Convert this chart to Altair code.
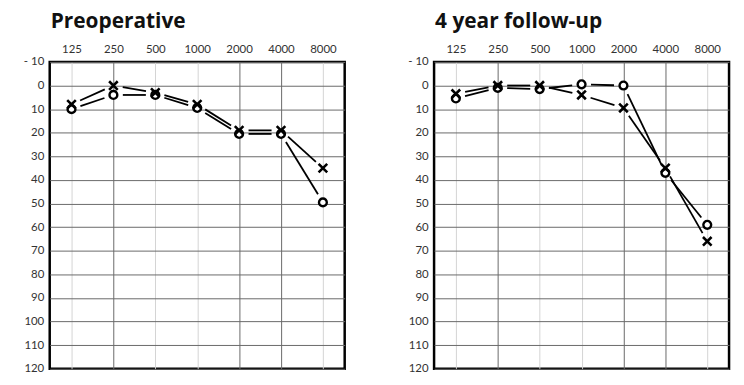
import altair as alt
import pandas as pd

freqs = ["125", "250", "500", "1000", "2000", "4000", "8000"]
pre_x = [8, 0, 3, 8, 19, 19, 35]
pre_o = [10, 4, 4, 9.5, 20.5, 20.5, 49.5]
post_x = [3.5, 0, 0, 4, 9.5, 35, 66]
post_o = [5.5, 1, 1.5, -0.5, 0, 37, 59]
db_ticks = list(range(-10, 130, 10))
dark_cols = [1, 4, 5]

W, H = 297, 309
XDOM = [-0.52, 6.52]
YDOM = [-10, 120]
KX = W / (XDOM[1] - XDOM[0])
KY = H / (YDOM[1] - YDOM[0])
GAP = 9.5

X_SHAPE = "M-1,-1L1,1M1,-1L-1,1"


def points(xs, os):
    rows = []
    for i, (a, b) in enumerate(zip(xs, os)):
        rows.append({"i": i, "db": a, "ear": "x"})
        rows.append({"i": i, "db": b, "ear": "o"})
    return pd.DataFrame(rows)


def segments(xs, os):
    rows = []
    for ear, vals in (("x", xs), ("o", os)):
        for i in range(len(vals) - 1):
            rows.append({"i": i, "i2": i + 1, "y": vals[i], "y2": vals[i + 1], "ear": ear})
    return pd.DataFrame(rows)


labels_js = "[" + ",".join("'%s'" % f for f in freqs) + "]"


def panel(title, xs, os):
    xscale = alt.Scale(domain=XDOM, nice=False, zero=False)
    yscale = alt.Scale(domain=YDOM, reverse=True, nice=False, zero=False)
    xaxis = alt.Axis(
        orient="top", values=list(range(len(freqs))), labelExpr=labels_js + "[datum.value]",
        title=None, domain=False, ticks=False, labelPadding=7, labelOverlap=False,
        gridColor={"condition": {"test": "indexof(%s, datum.value) >= 0" % dark_cols, "value": "#6a6a6a"},
                   "value": "#d4d4d4"},
        gridWidth=1, minExtent=20, maxExtent=20,
    )
    yaxis = alt.Axis(
        values=db_ticks, labelExpr="datum.value == -10 ? '- 10' : datum.label",
        title=None, domain=False, ticks=False, labelPadding=6, labelOverlap=False,
        gridColor="#6a6a6a", gridWidth=1, minExtent=35, maxExtent=35,
    )
    seg = alt.Chart(segments(xs, os)).transform_calculate(
        dx="(datum.i2 - datum.i) * %f" % KX,
        dy="(datum.y2 - datum.y) * %f" % KY,
    ).transform_calculate(
        f="%f / sqrt(datum.dx * datum.dx + datum.dy * datum.dy)" % GAP
    ).transform_calculate(
        xa="datum.i + (datum.i2 - datum.i) * datum.f",
        xb="datum.i2 - (datum.i2 - datum.i) * datum.f",
        ya="datum.y + (datum.y2 - datum.y) * datum.f",
        yb="datum.y2 - (datum.y2 - datum.y) * datum.f",
    ).mark_rule(color="black", strokeWidth=1.8).encode(
        x=alt.X("xa:Q", scale=xscale, axis=xaxis),
        x2="xb:Q",
        y=alt.Y("ya:Q", scale=yscale, axis=yaxis),
        y2="yb:Q",
    )
    pts = points(xs, os)
    circ = alt.Chart(pts).transform_filter("datum.ear == 'o'").mark_point(
        shape="circle", size=62, filled=False, fill="white", fillOpacity=1,
        stroke="black", strokeWidth=2.4, opacity=1,
    ).encode(x=alt.X("i:Q", scale=xscale, axis=xaxis), y=alt.Y("db:Q", scale=yscale, axis=yaxis))
    cross = alt.Chart(pts).transform_filter("datum.ear == 'x'").mark_point(
        shape=X_SHAPE, size=75, filled=False, stroke="black", strokeWidth=2.6, opacity=1,
    ).encode(x=alt.X("i:Q", scale=xscale, axis=xaxis), y=alt.Y("db:Q", scale=yscale, axis=yaxis))
    return alt.layer(seg, circ, cross).properties(
        width=W, height=H,
        title=alt.TitleParams(title, anchor="start", frame="group", fontSize=21, font="Open Sans",
                              fontWeight="bold", color="#111", offset=10, dx=1),
    )


chart = alt.hconcat(
    panel("Preoperative", pre_x, pre_o),
    panel("4 year follow-up", post_x, post_o),
    spacing=51,
).configure_view(stroke="black", strokeWidth=2.5).configure_axis(
    labelFont="Lato", labelFontSize=11.5, labelColor="#333"
).properties(background="white", padding={"left": 5, "top": 0, "right": 5, "bottom": 5})

chart.save("out.html", embed_options={"renderer": "svg", "actions": False})
